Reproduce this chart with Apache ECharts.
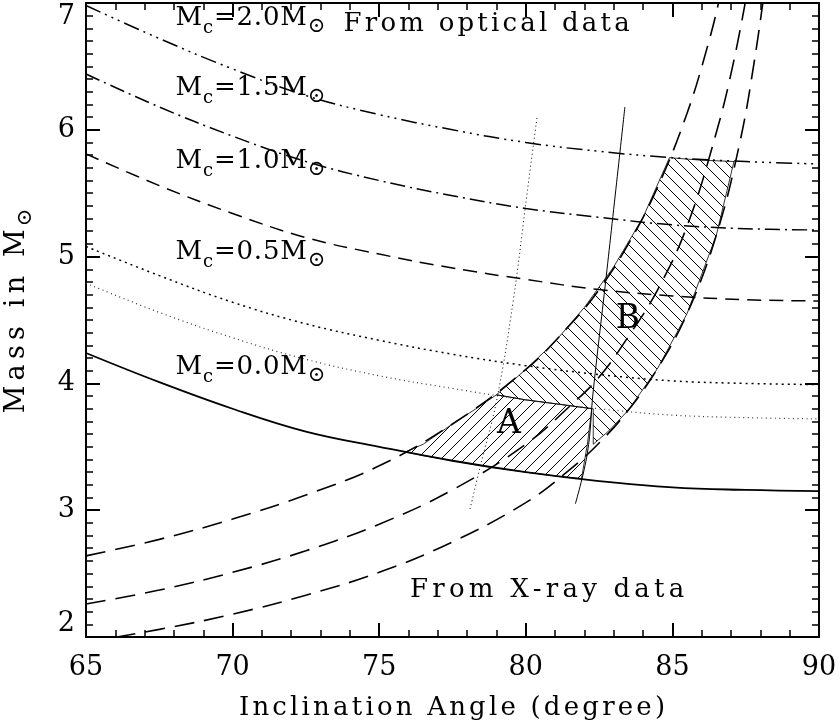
<!DOCTYPE html>
<html>
<head>
<meta charset="utf-8">
<script src="https://cdn.jsdelivr.net/npm/echarts@6/dist/echarts.min.js"></script>
<style>html,body{margin:0;padding:0;background:#fff}#c{width:840px;height:725px}</style>
</head>
<body>
<div id="c"></div>
<script>
// ---- data ----
const incl = [65, 67.5, 70, 72.5, 75, 77.5, 80, 82.5, 85, 87.5, 90];
const optMc20 = [6.98, 6.72, 6.48, 6.27, 6.12, 6.00, 5.90, 5.83, 5.78, 5.75, 5.73];
const optMc15 = [6.44, 6.18, 5.95, 5.75, 5.60, 5.48, 5.38, 5.31, 5.25, 5.22, 5.21];
const optMc10 = [5.81, 5.56, 5.34, 5.15, 5.02, 4.91, 4.82, 4.74, 4.69, 4.66, 4.65];
const optMc05 = [5.08, 4.85, 4.64, 4.47, 4.34, 4.23, 4.14, 4.07, 4.02, 4.00, 3.99];
const optMc00 = [4.79, 4.56, 4.36, 4.19, 4.06, 3.96, 3.87, 3.80, 3.75, 3.73, 3.72];
const optSolid = [4.24, 4.01, 3.80, 3.62, 3.50, 3.39, 3.30, 3.23, 3.18, 3.16, 3.15];

const xray1 = [[65,2.64],[67.5,2.77],[70,2.93],[72.5,3.12],[75,3.35],[77.5,3.68],[80,4.11],[81.5,4.46],[82.5,4.74],[83.5,5.10],[84.5,5.55],[85.5,6.13],[86.2,6.66],[86.6,7.03],[87,7.5]];
const xray2 = [[65,2.26],[67.5,2.37],[70,2.51],[72.5,2.68],[75,2.89],[77.5,3.16],[80,3.52],[81.5,3.82],[82.5,4.05],[83.5,4.37],[84.5,4.74],[85.5,5.24],[86.5,5.98],[87.1,6.55],[87.6,7.15]];
const xray3 = [[65,1.96],[67.5,2.06],[70,2.18],[72.5,2.33],[75,2.51],[77.5,2.75],[80,3.06],[81.5,3.32],[82.5,3.53],[83.5,3.79],[84.5,4.12],[85.5,4.55],[86.5,5.17],[87.3,5.90],[87.8,6.55],[88.2,7.2]];

const lineA = [[78.1,3.01],[78.44,3.34],[79.0,3.86],[79.57,4.65],[80.05,5.51],[80.39,6.11]];
const lineB = [[81.69,3.05],[82.1,3.45],[82.3,3.94],[82.77,4.90],[83.38,6.18]];

const hatchA = [[75.9,3.46],[76.5,3.52],[77.5,3.68],[78.3,3.80],[79.0,3.91],[80,3.87],[81,3.84],[82.25,3.80],[82.1,3.52],[81.9,3.25],[81,3.27],[80,3.30],[78.5,3.35],[77.5,3.39],[76.5,3.43]];
const hatchB = [[79.0,3.91],[80,4.11],[81,4.33],[82,4.60],[83,4.92],[84,5.31],[84.9,5.78],[86,5.76],[87.1,5.75],[86.5,5.17],[85.5,4.55],[84.5,4.12],[83.5,3.79],[82.85,3.63],[82.3,3.52],[82.3,3.80],[81,3.84],[80,3.87]];

const xTicks = {min: 65, max: 90, interval: 5};
const yTicks = {min: 2, max: 7, interval: 1};

// ---- helpers ----
const FONT = 'DejaVu Serif';
function pairs(xs, ys) { return xs.map((x, i) => [x, ys[i]]); }
function sp(str, st) { return str.split('').map(c => '{' + st + '|' + c + '}').join(''); }
function hatchCanvas(dir) {
  const s = 12, c = document.createElement('canvas');
  c.width = s; c.height = s;
  const g = c.getContext('2d');
  g.strokeStyle = '#000'; g.lineWidth = 1;
  g.beginPath();
  for (let k = -1; k <= 1; k++) {
    if (dir > 0) { g.moveTo(k * s - 1, s + 1); g.lineTo(k * s + s + 1, -1); }
    else { g.moveTo(k * s - 1, -1); g.lineTo(k * s + s + 1, s + 1); }
  }
  g.stroke();
  return c;
}
const patA = hatchCanvas(1), patB = hatchCanvas(-1);

const richBase = {
  ns: {fontFamily: FONT, fontSize: 26, lineHeight: 26, color: '#000', padding: [0, 0.4, 6, 0.4], verticalAlign: 'bottom'},
  ny: {fontFamily: FONT, fontSize: 27, lineHeight: 27, color: '#000', padding: [0, 2.6, 6, 2.6], verticalAlign: 'bottom'},
  nx: {fontFamily: FONT, fontSize: 26, lineHeight: 26, color: '#000', padding: [0, 1.6, 0, 1.6], verticalAlign: 'bottom'},
  nr: {fontFamily: FONT, fontSize: 26, lineHeight: 26, color: '#000', padding: [0, 2.1, 0, 2.1], verticalAlign: 'bottom'},
  sub: {fontFamily: FONT, fontSize: 18, lineHeight: 18, color: '#000', padding: [0, 0.5, 0, 0.5], verticalAlign: 'bottom'},
  sun: {fontFamily: FONT, fontSize: 21, lineHeight: 19, color: '#000', padding: [0, 0.5, 0, 0.5], verticalAlign: 'bottom'}
};
function mcLabel(v) { return sp('M', 'ns') + '{sub|c}' + sp('=' + v + 'M', 'ns') + '{sun|⊙}'; }
function txt(x, y, text, extra) {
  return Object.assign({type: 'text', x: x, y: y, z: 100,
    style: {text: text, rich: richBase, align: 'left', verticalAlign: 'top', fill: '#000'}}, extra || {});
}

function polySeries(data, pat) {
  return {
    type: 'custom', data: data, z: 1, silent: true,
    encode: {x: 0, y: 1},
    renderItem: function (params, api) {
      if (params.dataIndex !== 0) return;
      const pts = data.map(p => api.coord(p));
      return {type: 'polygon', shape: {points: pts},
        style: {fill: {image: pat, repeat: 'repeat'}, stroke: '#000', lineWidth: 0.8}};
    }
  };
}
function lineSeries(data, type, width, color) {
  return {type: 'line', data: data, showSymbol: false, symbol: 'none', smooth: 0.4,
    silent: true, z: 3, lineStyle: {color: color || '#000', width: width, type: type, cap: 'butt'}};
}

const axisCommon = {
  axisLine: {show: true, onZero: false, lineStyle: {color: '#000', width: 2}},
  axisTick: {show: true, inside: true, length: 14, lineStyle: {color: '#000', width: 2}},
  minorTick: {show: true, length: 7, lineStyle: {color: '#000', width: 1.5}},
  splitLine: {show: false}, minorSplitLine: {show: false}
};

const chart = echarts.init(document.getElementById('c'), null, {renderer: 'canvas'});
chart.setOption({
  backgroundColor: '#fff',
  animation: false,
  grid: {left: 86, right: 21, top: 3, bottom: 88, containLabel: false},
  xAxis: [
    Object.assign({type: 'value', position: 'bottom', min: xTicks.min, max: xTicks.max, interval: xTicks.interval,
      axisLabel: {show: true, color: '#000', fontFamily: FONT, fontSize: 27, margin: 17}}, axisCommon,
      {minorTick: Object.assign({}, axisCommon.minorTick, {splitNumber: 5})}),
    Object.assign({type: 'value', position: 'top', min: xTicks.min, max: xTicks.max, interval: xTicks.interval,
      axisLabel: {show: false}}, axisCommon,
      {minorTick: Object.assign({}, axisCommon.minorTick, {splitNumber: 5})})
  ],
  yAxis: [
    Object.assign({type: 'value', position: 'left', min: yTicks.min, max: yTicks.max, interval: yTicks.interval,
      axisLabel: {show: true, color: '#000', fontFamily: FONT, fontSize: 27, margin: 11,
        verticalAlignMaxLabel: 'top', verticalAlignMinLabel: 'bottom'}}, axisCommon,
      {minorTick: Object.assign({}, axisCommon.minorTick, {splitNumber: 10})}),
    Object.assign({type: 'value', position: 'right', min: yTicks.min, max: yTicks.max, interval: yTicks.interval,
      axisLabel: {show: false}}, axisCommon,
      {minorTick: Object.assign({}, axisCommon.minorTick, {splitNumber: 10})})
  ],
  series: [
    polySeries(hatchA, patA),
    polySeries(hatchB, patB),
    lineSeries(pairs(incl, optMc20), [16, 5, 2, 5, 2, 5, 2, 5], 1.5, '#000'),
    lineSeries(pairs(incl, optMc15), [15, 5, 2, 5], 1.5, '#000'),
    lineSeries(pairs(incl, optMc10), [14, 8], 1.5, '#000'),
    lineSeries(pairs(incl, optMc05), [2, 4], 1.5, '#000'),
    lineSeries(pairs(incl, optMc00), [1, 3.5], 1.2, '#333'),
    lineSeries(pairs(incl, optSolid), 'solid', 1.8, '#000'),
    lineSeries(xray1, [20, 10], 1.6, '#000'),
    lineSeries(xray2, [20, 10], 1.6, '#000'),
    lineSeries(xray3, [20, 10], 1.6, '#000'),
    lineSeries(lineA, [1, 3], 1, '#000'),
    lineSeries(lineB, 'solid', 1, '#000')
  ],
  graphic: [
    txt(175, 11, mcLabel('2.0')),
    txt(342, 11, sp('From optical data', 'nx')),
    txt(175, 81, mcLabel('1.5')),
    txt(175, 154, mcLabel('1.0')),
    txt(175, 245, mcLabel('0.5')),
    txt(175, 360, mcLabel('0.0')),
    txt(408, 577, sp('From X-ray data', 'nr')),
    txt(509, 424, '{a|A}', {style: {text: '{a|A}', rich: {a: {fontFamily: FONT, fontSize: 33, color: '#000'}}, align: 'center', verticalAlign: 'middle'}}),
    txt(628, 319, '{a|B}', {style: {text: '{a|B}', rich: {a: {fontFamily: FONT, fontSize: 33, color: '#000'}}, align: 'center', verticalAlign: 'middle'}}),
    {type: 'text', x: 452, y: 708, z: 100, style: {text: sp('Inclination Angle (degree)', 'nx'), rich: richBase, align: 'center', verticalAlign: 'middle', fill: '#000'}},
    {type: 'text', x: 23, y: 312, z: 100, rotation: Math.PI / 2, style: {text: sp('Mass in M', 'ny') + '{sun|⊙}', rich: richBase, align: 'center', verticalAlign: 'middle', fill: '#000'}}
  ]
});
</script>
</body>
</html>
